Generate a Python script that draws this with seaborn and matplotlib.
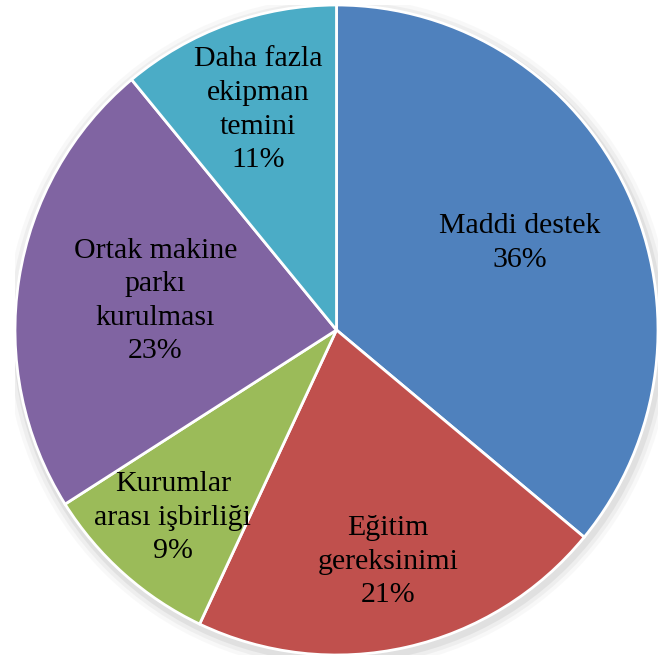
import numpy as np
import matplotlib
matplotlib.use("Agg")
import matplotlib.pyplot as plt
import seaborn as sns

sns.set_theme(style="white")
plt.rcParams['font.family'] = ['Liberation Serif', 'DejaVu Serif']

labels = ["Maddi destek", "Eğitim\ngereksinimi", "Kurumlar\narası işbirliği",
          "Ortak makine\nparkı\nkurulması", "Daha fazla\nekipman\ntemini"]
shares = [36, 21, 9, 23, 11]
colors = ["#4F81BD", "#C0504D", "#9BBB59", "#8064A2", "#4BACC6"]
# distance of each label from the centre (fraction of radius)
label_r = [0.63, 0.73, 0.77, 0.57, 0.72]

fig = plt.figure(figsize=(6.6, 6.62), dpi=100)
ax = fig.add_axes([15 / 660, 7 / 662, 643 / 660, 650 / 662])

# soft shadow under the pie
for i, a in enumerate([0.05, 0.08, 0.12]):
    sh = plt.Circle((0.006, -0.012), 1.0 + 0.012 * (3 - i), color="grey", alpha=a, lw=0, zorder=0)
    ax.add_patch(sh)

wedges, _ = ax.pie(shares, colors=colors, startangle=90, counterclock=False,
                   wedgeprops=dict(edgecolor="white", linewidth=2))
for w in wedges:
    w.set_zorder(2)

for w, lab, s, r in zip(wedges, labels, shares, label_r):
    ang = np.deg2rad((w.theta1 + w.theta2) / 2)
    ax.text(r * np.cos(ang), r * np.sin(ang), f"{lab}\n{s}%", ha="center", va="center",
            fontsize=21.5, color="black", linespacing=1.38, zorder=3)

ax.set_xlim(-1, 1)
ax.set_ylim(-1, 1)
ax.set_aspect("auto")
ax.axis("off")

fig.savefig("out.png", dpi=100)
